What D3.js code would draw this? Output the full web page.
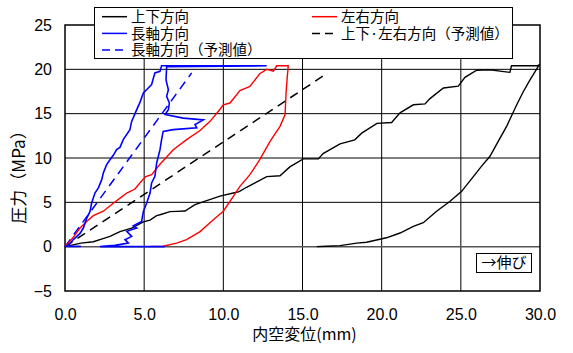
<!DOCTYPE html>
<html>
<head>
<meta charset="utf-8">
<script src="https://cdn.jsdelivr.net/npm/d3@7"></script>
<style>
  body { margin: 0; background: #fff; }
  svg { display: block; }
  .tick text { font-family: "Liberation Sans", Arial, sans-serif; font-size: 16px; fill: #000; }
  .jp { font-family: "Noto Sans CJK JP", sans-serif; fill: #000; }
</style>
</head>
<body>
<div id="chart"></div>
<script>
// tick values
const xTicks = [0, 5, 10, 15, 20, 25, 30];
const yTicks = [-5, 0, 5, 10, 15, 20, 25];

// 上下方向 (displacement mm, stress MPa)
const verticalPts = [
  [0,0],[0.5,0.2],[1.0,0.4],[1.79,0.55],[2.4,0.9],[2.84,1.16],[3.47,1.7],[4.21,2.1],
  [4.95,2.8],[5.37,3.0],[5.79,3.5],[6.0,3.6],[6.63,3.95],[7.05,3.98],[7.58,4.02],[8.21,4.74],
  [8.95,5.2],[9.79,5.7],[10.63,6.05],[11.0,6.2],[11.47,6.7],[12.0,7.2],[12.74,7.9],[13.58,8.0],
  [14.2,9.0],[15.05,9.9],[16.0,9.9],[16.3,10.5],[17.37,11.6],[18.3,12.05],[18.74,12.8],[19.7,13.9],
  [20.63,14.0],[21.16,15.1],[22.0,16.0],[22.74,16.1],[23.05,16.7],[23.9,17.9],[24.84,18.1],[25.26,19.1],
  [26.0,19.9],[26.84,19.96],[27.47,19.8],[28.1,19.66],[28.2,20.4],[29.8,20.4],[29.95,20.5],
  [29.37,18.8],[28.95,17.5],[28.53,16.0],[27.9,13.6],[27.37,11.9],[26.84,10.2],[26.3,9.06],
  [25.79,7.9],[25.05,6.24],[24.3,5.1],[23.47,4.0],[22.63,2.7],[22.0,2.3],[21.16,1.54],[20.3,1.0],
  [19.05,0.5],[18.42,0.4],[17.37,0.12],[16.5,0.05],[15.9,0.0]
];

// 左右方向
const lateralPts = [
  [0,0],[0.5,1.0],[0.95,2.1],[1.4,2.9],[1.79,3.5],[2.42,4.0],[3.05,4.9],[3.5,5.5],[3.9,6.05],
  [4.42,6.5],[4.74,7.2],[5.1,7.9],[5.47,8.12],[6.0,9.3],[6.84,10.94],[7.68,12.07],[8.53,13.1],
  [9.16,14.13],[9.79,15.5],[10.0,16.0],[10.42,16.2],[11.05,17.6],[11.68,18.08],[12.3,19.5],
  [12.74,20.0],[13.16,19.8],[13.37,20.4],[14.1,20.4],[14.04,19.2],[13.96,17.3],[13.9,14.9],
  [13.58,13.57],[12.95,11.88],[12.3,9.81],[11.68,8.12],[11.05,6.8],[10.63,5.67],[10.0,4.0],
  [9.37,3.04],[8.53,1.7],[7.68,0.79],[7.05,0.4],[6.2,0.05],[5.4,0.03]
];

// 長軸方向
const axialPts = [
  [0,0],[1.0,0.03],[0.1,0.05],[0.3,0.3],[0.53,0.8],[0.95,1.5],[1.16,2.1],[1.37,3.2],[1.58,3.98],
  [1.68,4.9],[1.89,6.05],[2.1,6.6],[2.32,7.56],[2.42,8.3],[2.63,9.25],[2.84,9.8],[3.05,10.3],
  [3.26,10.94],[3.47,11.2],[3.68,12.07],[4.1,13.2],[4.21,14.13],[4.53,15.45],[4.74,16.3],
  [4.95,17.33],[5.26,17.9],[5.47,18.27],[5.58,19.0],[5.68,19.59],[6.0,19.77],[6.1,20.4],
  [12.74,20.4],[6.42,20.3],[6.38,18.8],[6.53,17.7],[6.42,16.95],[6.59,16.2],[6.53,15.45],
  [6.32,14.9],[7.47,14.5],[8.74,14.3],[8.21,13.76],[8.32,13.4],[6.84,13.2],[6.2,13.0],
  [6.1,12.07],[6.0,10.94],[5.79,9.44],[5.68,7.93],[5.47,7.18],[5.37,6.05],[5.16,4.93],
  [4.95,3.98],[4.84,2.85],[4.31,2.35],[4.53,2.1],[3.9,1.73],[4.21,1.16],[3.79,0.79],
  [4.0,0.41],[3.16,0.15],[2.21,0.0],[6.3,0.0]
];

// 予測値
const axialPred = [[0,0],[8.0,19.6]];
const vertLatPred = [[0,0],[16.6,19.6]];

const margin = {top: 25, right: 33, bottom: 62, left: 65},
    width = 573 - margin.left - margin.right,
    height = 353 - margin.top - margin.bottom;

const svg = d3.select("#chart")
  .append("svg")
    .attr("width", 573)
    .attr("height", 353)
  .append("g")
    .attr("transform", "translate(" + margin.left + "," + margin.top + ")");

const x = d3.scaleLinear().domain([0, 30]).range([0, width]);
const y = d3.scaleLinear().domain([-5, 25]).range([height, 0]);

// grid
svg.append("g")
  .selectAll("line.vg")
  .data(xTicks.slice(1, -1))
  .join("line")
    .attr("x1", d => x(d)).attr("x2", d => x(d))
    .attr("y1", 0).attr("y2", height)
    .attr("stroke", "#000").attr("stroke-width", 1);
svg.append("g")
  .selectAll("line.hg")
  .data(yTicks.slice(1, -1))
  .join("line")
    .attr("x1", 0).attr("x2", width)
    .attr("y1", d => y(d)).attr("y2", d => y(d))
    .attr("stroke", d => d === 0 ? "#555" : "#000").attr("stroke-width", d => d === 0 ? 1.5 : 1);

// axes (labels only)
const xAxis = svg.append("g")
  .attr("transform", "translate(0," + height + ")")
  .call(d3.axisBottom(x).tickValues(xTicks).tickSize(0).tickPadding(18).tickFormat(d3.format(".1f")));
xAxis.select(".domain").remove();

const yAxis = svg.append("g")
  .call(d3.axisLeft(y).tickValues(yTicks).tickSize(0).tickPadding(13).tickFormat(d => d < 0 ? "\u2212" + Math.abs(d) : d));
yAxis.select(".domain").remove();

// frame
svg.append("rect")
  .attr("width", width).attr("height", height)
  .attr("fill", "none").attr("stroke", "#000").attr("stroke-width", 1.5);

const line = d3.line().x(d => x(d[0])).y(d => y(d[1]));

svg.append("path").datum(vertLatPred)
  .attr("fill", "none").attr("stroke", "#000").attr("stroke-width", 1.5)
  .attr("stroke-dasharray", "9,6").attr("d", line);
svg.append("path").datum(axialPred)
  .attr("fill", "none").attr("stroke", "#0000ff").attr("stroke-width", 1.5)
  .attr("stroke-dasharray", "9,6").attr("d", line);
svg.append("path").datum(verticalPts)
  .attr("fill", "none").attr("stroke", "#000").attr("stroke-width", 1.4).attr("d", line);
svg.append("path").datum(lateralPts)
  .attr("fill", "none").attr("stroke", "#ff0000").attr("stroke-width", 1.4).attr("d", line);
svg.append("path").datum(axialPts)
  .attr("fill", "none").attr("stroke", "#0000ff").attr("stroke-width", 1.6).attr("d", line);

// axis titles
svg.append("text").attr("class", "jp")
  .attr("x", width / 2 + 2).attr("y", height + 49)
  .attr("text-anchor", "middle").style("font-size", "16px")
  .text("内空変位(mm)");
svg.append("text").attr("class", "jp")
  .attr("transform", "translate(" + (-46) + "," + (height / 2 + 15) + ") rotate(-90)")
  .attr("text-anchor", "middle").attr("dy", "0.35em").style("font-size", "17px")
  .text("圧力（MPa）");

// legend
const root = d3.select("svg");
root.append("rect")
  .attr("x", 94.5).attr("y", 7.5).attr("width", 418).attr("height", 51)
  .attr("fill", "#fff").attr("stroke", "#000").attr("stroke-width", 1);
const legendItems = [
  {label: "上下方向", color: "#000", dash: null, col: 0, row: 0},
  {label: "左右方向", color: "#ff0000", dash: null, col: 1, row: 0},
  {label: "長軸方向", color: "#0000ff", dash: null, col: 0, row: 1},
  {label: "上下·左右方向（予測値）", color: "#000", dash: "8,5", col: 1, row: 1},
  {label: "長軸方向（予測値）", color: "#0000ff", dash: "8,5", col: 0, row: 2}
];
const lg = root.append("g").selectAll("g").data(legendItems).join("g")
  .attr("transform", d => "translate(" + (d.col ? 312 : 102) + "," + (16.7 + d.row * 16.7) + ")");
lg.append("line").attr("x1", 0).attr("x2", 25)
  .attr("stroke", d => d.color).attr("stroke-width", 1.5)
  .attr("stroke-dasharray", d => d.dash);
lg.append("text").attr("class", "jp").attr("x", 29).attr("dy", "0.36em")
  .style("font-size", "14.5px").text(d => d.label);

// annotation
root.append("rect")
  .attr("x", 476.5).attr("y", 253.5).attr("width", 55).attr("height", 19)
  .attr("fill", "#fff").attr("stroke", "#000").attr("stroke-width", 1);
root.append("text").attr("class", "jp")
  .attr("x", 504).attr("y", 263).attr("dy", "0.36em").attr("text-anchor", "middle")
  .style("font-size", "15px").text("→伸び");
</script>
</body>
</html>
